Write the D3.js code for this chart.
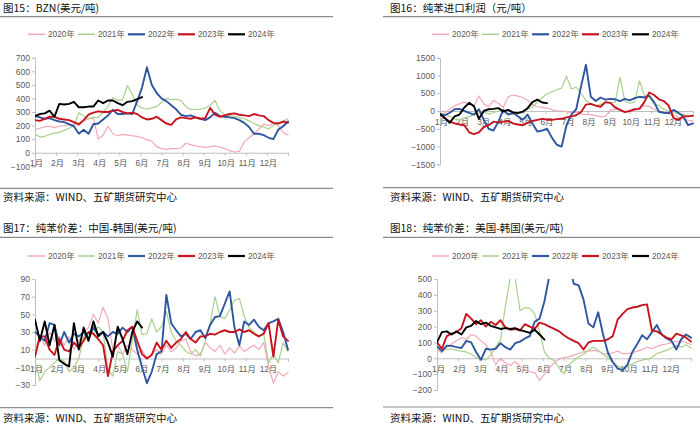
<!DOCTYPE html>
<html><head><meta charset="utf-8">
<script src="https://cdn.jsdelivr.net/npm/d3@7"></script>
<style>body{margin:0;background:#fff;} svg{display:block;}</style>
</head><body><svg id="c" width="700" height="425"></svg>
<script>
// ---------- data ----------
const monthLabels = ["1月","2月","3月","4月","5月","6月","7月","8月","9月","10月","11月","12月"];
const seriesNames = ["2020年","2021年","2022年","2023年","2024年"];
const footerText = "资料来源：WIND、五矿期货研究中心";

// 图15 BZN (weekly readings)
const bzn2020 = [170,180,190,195,185,195,200,205,210,200,235,250,255,100,130,195,140,125,135,130,125,120,110,95,85,45,30,25,30,30,35,70,60,50,45,40,45,50,40,30,15,5,10,80,110,140,175,210,200,215,200,150,130];
const bzn2021 = [140,115,120,135,145,150,165,180,200,295,270,250,260,260,300,340,405,385,390,495,430,350,330,320,330,340,370,400,390,395,385,340,320,320,320,330,350,385,310,280,275,270,260,250,235,215,200,190,175,200,220,230,250];
const bzn2022 = [270,260,250,255,240,230,225,210,195,140,170,140,210,215,245,275,315,285,285,290,285,380,480,630,500,440,400,380,350,320,280,270,275,260,250,240,260,295,270,265,260,255,240,220,190,140,140,130,110,100,170,195,230];
const bzn2023 = [240,235,250,265,265,250,245,240,225,210,240,280,295,305,300,300,310,315,300,290,295,285,260,245,250,265,240,215,205,245,260,255,250,260,250,255,330,280,265,275,285,290,280,275,270,285,275,270,240,220,215,230,220];
const bzn2024 = [270,285,290,310,265,360,355,360,375,335,335,340,340,385,365,385,385,365,350,375,380,395,410];
const bznTicks = [-100,0,100,200,300,400,500,600,700];

// 图16 纯苯进口利润
const imp2020 = [-100,-50,50,150,200,250,200,150,420,200,120,300,220,100,400,450,420,380,300,180,120,100,80,40,0,0,-20,-50,-30,-80,-100,-100,-130,-160,-150,20,50,30,0,-20,30,100,150,130,50,0,-30,-80,-120,-180,-220,-260,-280];
const imp2021 = [-50,-100,-150,-220,-250,-200,-150,-100,-50,-30,-80,-50,0,-30,-80,-100,-50,-60,50,120,250,380,480,540,600,640,980,620,670,500,300,200,150,180,250,220,250,950,280,220,250,850,450,400,200,150,50,0,-50,-80,-100,-120,-150];
const imp2022 = [-100,-120,-50,50,60,0,-50,-100,50,-250,-500,-550,-300,30,-100,-50,-150,-250,-100,-350,-580,-550,-500,-750,-950,-1000,-400,-100,50,700,1300,400,280,380,320,340,330,280,340,300,360,400,380,430,250,-20,-50,-60,30,-50,-150,-400,-350];
const imp2023 = [-100,-200,-300,-350,-380,-400,-600,-650,-600,-450,-400,-300,-320,-300,-280,-350,-380,-400,-330,-280,-250,-220,-240,-250,-230,-220,-180,-150,-120,-30,180,200,150,120,250,230,100,30,-30,0,50,60,250,520,450,330,280,150,-200,-250,-150,-150,-130];
const imp2024 = [-80,-200,-330,-150,-100,100,230,130,-220,0,50,60,80,-10,30,-40,-60,-20,80,250,320,240,220];
const impTicks = [-1500,-1000,-500,0,500,1000,1500];

// 图17 纯苯价差：中国-韩国
const cn2020 = [10,25,15,30,20,25,15,25,10,20,30,35,50,40,58,45,10,15,5,15,10,5,10,0,5,10,5,15,8,12,20,22,8,3,5,18,12,8,15,5,12,6,14,8,12,15,10,18,-8,-28,-15,-20,-16];
const cn2021 = [-2,-25,-15,-10,-5,0,-3,-15,-10,0,25,30,28,36,30,-12,-20,8,5,-15,20,55,27,28,45,30,36,53,30,20,15,8,5,10,3,20,40,70,48,45,55,66,68,48,35,30,25,28,-5,5,-5,18,8];
const cn2022 = [30,25,20,40,38,15,30,18,28,25,30,22,35,27,30,25,30,28,35,30,36,10,-10,-28,-15,5,8,72,40,32,25,28,22,30,32,23,38,47,48,62,76,35,15,42,38,44,36,32,40,42,45,30,10];
const cn2023 = [2,25,25,10,4,22,10,8,18,12,20,30,28,22,15,-20,8,15,20,32,36,20,5,0,4,18,10,20,12,18,22,30,22,18,25,25,28,27,30,32,30,30,33,30,32,28,25,28,40,2,44,25,20];
const cn2024 = [44,20,42,15,38,-2,-6,-9,40,10,35,20,42,25,30,18,2,36,22,5,30,42,35];
const cnTicks = [-30,-10,10,30,50,70,90];

// 图18 纯苯价差：美国-韩国
const us2020 = [55,35,70,90,110,130,120,150,140,110,85,40,-40,0,-30,-45,-20,-50,-70,-85,-90,-140,-100,-60,-30,-5,5,10,20,30,40,45,50,45,30,25,35,45,30,30,35,45,55,70,60,75,85,90,100,105,110,100,85];
const us2021 = [60,70,55,60,50,45,40,25,5,-5,-10,20,70,115,330,510,510,300,320,315,280,170,40,0,-15,-60,-100,-40,-15,10,25,50,70,50,25,5,-25,-50,-65,-50,-35,-20,-12,-5,5,30,40,50,65,80,70,85,65];
const us2022 = [75,45,80,78,70,65,110,100,40,-10,60,55,60,95,70,55,95,105,125,140,230,250,360,520,600,650,650,600,470,460,370,220,195,290,150,35,-25,-65,-75,-40,40,90,145,120,165,210,150,125,110,55,120,150,130];
const us2023 = [100,60,140,155,165,190,280,250,215,240,200,230,210,240,195,180,185,175,215,200,185,225,215,200,185,170,145,125,110,95,55,100,110,110,110,120,140,245,280,310,320,325,335,340,175,170,150,130,120,155,145,130,105];
const us2024 = [100,165,170,150,170,150,195,205,235,215,225,205,195,185,190,185,190,178,170,160,180,150,118];
const usTicks = [-200,-100,0,100,200,300,400,500];

// ---------- styles ----------
const colors = ["#F2A9B6","#A9D18E","#2F56A0","#C8141E","#000000"];
const widths = [1.2,1.2,1.9,1.9,1.9];
const fontNum = "'Liberation Sans','Noto Sans CJK SC',sans-serif";
const fontCJK = "'Noto Sans CJK SC',sans-serif";
const svg = d3.select("#c");

const panels = [
  {id:"p1", title:"图15：BZN(美元/吨)", tx:3, ty:12, rx0:0, rx1:333, rTop:16.7, rBot:188.3, fy:201,
   lx:28, ly:34.3, x0:35, x1:288, yTop:57.7, yBot:166.3, ticks:bznTicks, series:[bzn2020,bzn2021,bzn2022,bzn2023,bzn2024]},
  {id:"p2", title:"图16：纯苯进口利润（元/吨）", tx:390, ty:12, rx0:383, rx1:700, rTop:16.7, rBot:187.7, fy:201,
   lx:432, ly:34.3, x0:440, x1:693, yTop:57.7, yBot:164.3, ticks:impTicks, series:[imp2020,imp2021,imp2022,imp2023,imp2024]},
  {id:"p3", title:"图17：纯苯价差：中国-韩国(美元/吨)", tx:3, ty:232, rx0:0, rx1:333, rTop:237.3, rBot:407.7, fy:422,
   lx:28, ly:256, x0:35, x1:288, yTop:279, yBot:385, ticks:cnTicks, series:[cn2020,cn2021,cn2022,cn2023,cn2024]},
  {id:"p4", title:"图18：纯苯价差：美国-韩国(美元/吨)", tx:390, ty:232, rx0:383, rx1:700, rTop:237.3, rBot:407, fy:422,
   lx:432, ly:256, x0:437, x1:691, yTop:279, yBot:390, ticks:usTicks, series:[us2020,us2021,us2022,us2023,us2024]}
];

function drawPanel(p) {
  const g = svg.append("g");
  g.append("text").attr("x", p.tx).attr("y", p.ty).text(p.title)
    .attr("font-family", fontCJK).attr("font-size", 10.5).attr("fill", "#111");
  [p.rTop, p.rBot].forEach(yy => g.append("line")
    .attr("x1", p.rx0).attr("x2", p.rx1).attr("y1", yy).attr("y2", yy)
    .attr("stroke", "#8a8a8a").attr("stroke-width", 1.2));
  g.append("text").attr("x", p.tx).attr("y", p.fy).text(footerText)
    .attr("font-family", fontCJK).attr("font-size", 10.5).attr("fill", "#111");

  // legend
  seriesNames.forEach((n, i) => {
    const lx = p.lx + i * 50;
    g.append("line").attr("x1", lx).attr("x2", lx + 17).attr("y1", p.ly).attr("y2", p.ly)
      .attr("stroke", colors[i]).attr("stroke-width", widths[i] + 0.3);
    g.append("text").attr("x", lx + 20).attr("y", p.ly + 3).text(n)
      .attr("font-family", fontNum).attr("font-size", 8.3).attr("fill", "#595959");
  });

  const x = d3.scaleLinear().domain([0, 12]).range([p.x0, p.x1]);
  const y = d3.scaleLinear().domain([p.ticks[0], p.ticks[p.ticks.length - 1]]).range([p.yBot, p.yTop]);

  // y axis
  const ya = g.append("g").attr("transform", `translate(${p.x0},0)`)
    .call(d3.axisLeft(y).tickValues(p.ticks).tickSize(3).tickPadding(2).tickFormat(d3.format("d")));
  ya.select(".domain").attr("stroke", "#bfbfbf");
  ya.selectAll(".tick line").attr("stroke", "#bfbfbf");
  ya.selectAll(".tick text").attr("font-family", fontNum).attr("font-size", 8.5).attr("fill", "#595959")
    .text(d => d < 0 ? "\u2212" + Math.abs(d) : d);

  // x axis at zero
  const xa = g.append("g").attr("transform", `translate(0,${y(0)})`)
    .call(d3.axisBottom(x).tickValues(d3.range(0, 13)).tickSize(3).tickFormat(() => ""));
  xa.select(".domain").attr("stroke", "#bfbfbf");
  xa.selectAll(".tick line").attr("stroke", "#bfbfbf");
  monthLabels.forEach((m, i) => {
    g.append("text").attr("x", x(i) + 1.5).attr("y", y(0) + 13.5).text(m)
      .attr("text-anchor", "middle").attr("font-family", fontNum).attr("font-size", 8.3).attr("fill", "#595959");
  });

  // clip
  svg.append("defs").append("clipPath").attr("id", "clip-" + p.id)
    .append("rect").attr("x", p.x0).attr("y", p.yTop).attr("width", p.x1 - p.x0 + 2).attr("height", p.yBot - p.yTop);

  const line = d3.line().x((d, i) => x(i * 12 / 52)).y(d => y(d));
  const lg = g.append("g").attr("clip-path", `url(#clip-${p.id})`);
  p.series.forEach((s, i) => {
    lg.append("path").datum(s).attr("d", line).attr("fill", "none")
      .attr("stroke", colors[i]).attr("stroke-width", widths[i])
      .attr("stroke-linejoin", "round").attr("stroke-linecap", "round");
  });
}
panels.forEach(drawPanel);
</script>
</body></html>
